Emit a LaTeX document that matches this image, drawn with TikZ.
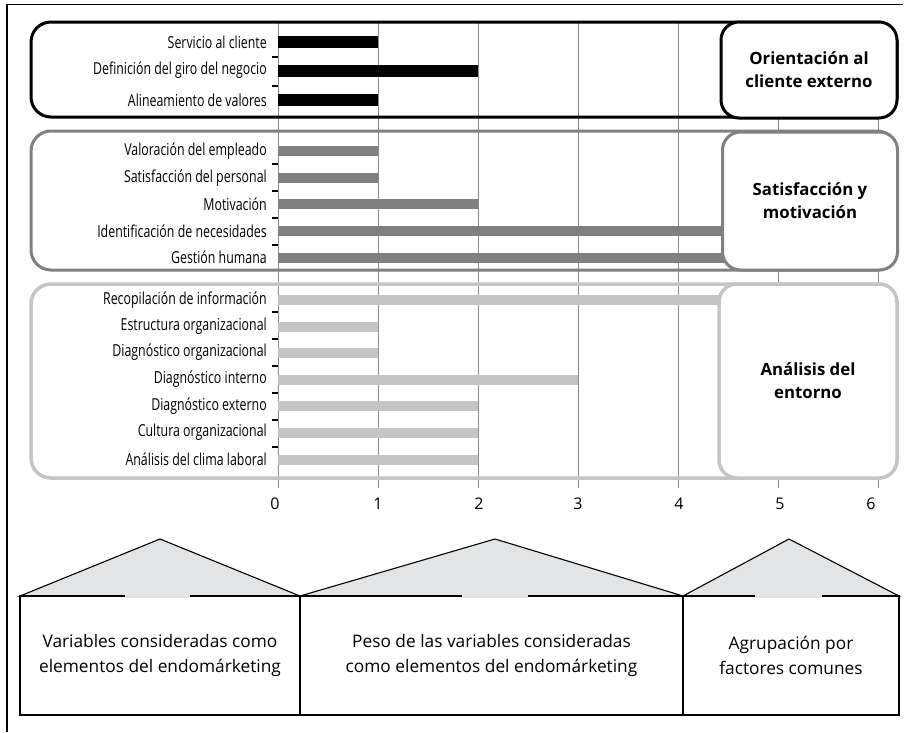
\documentclass[tikz,border=0pt]{standalone}
\usepackage{fontspec}
\setmainfont{Open Sans}
\newfontfamily\condfont[FakeStretch=0.75]{Open Sans}
\definecolor{gridgray}{RGB}{140,140,140}
\definecolor{barblack}{RGB}{0,0,0}
\definecolor{bargray}{RGB}{128,128,128}
\definecolor{barlight}{RGB}{196,197,198}
\definecolor{rooffill}{RGB}{227,228,229}
\begin{document}
\begin{tikzpicture}[x=1pt,y=-1pt,
  catlabel/.style={anchor=east,inner sep=0pt,font=\condfont\fontsize{16.5}{18}\selectfont},
  gridline/.style={draw=gridgray,line width=1pt},
  tickmark/.style={draw=black,line width=1.3pt},
  axislabel/.style={inner sep=0pt,font=\fontsize{16}{18}\selectfont},
  groupframe/.style={line width=3pt,rounded corners=20pt},
  factorbox/.style={fill=white,line width=3pt,rounded corners=18pt,align=center,
    inner sep=0pt,font=\bfseries\fontsize{16.8}{23}\selectfont},
  roof/.style={draw=black,line width=1.1pt,fill=rooffill,line join=miter},
  basebox/.style={draw=black,line width=1.1pt,inner sep=0pt,align=center,
    font=\fontsize{17.3}{25}\selectfont}]
\useasboundingbox (0,0) rectangle (906,732);
% page frame: top and left rules
\draw[line width=1.5pt] (7,732) -- (7,4.5) -- (903,4.5);

% vertical grid
\foreach \k in {0,...,6}
  \draw[gridline] ({278+100*\k},21) -- ({278+100*\k},488);
\foreach \k/\px in {0/275,1/378,2/479,3/578,4/679,5/780,6/871}
  \node[axislabel] (t\k) at (\px,504) {\k};

% group 1: orientation to the external customer
\foreach \y/\v/\t [count=\i] in {42/1/Servicio al cliente,
    70.5/2/Definición del giro del negocio,
    100/1/Alineamiento de valores} {
  \fill[barblack] (278,\y-6) rectangle ({278+100*\v},\y+6);
  \node[catlabel] (a\i) at (267,\y) {\t};
}
\foreach \y in {57,86} \draw[tickmark] (272,\y) -- (278,\y);

% group 2: satisfaction and motivation
\foreach \y/\v/\t [count=\i] in {151/1/Valoración del empleado,
    178/1/Satisfacción del personal,
    204/2/Motivación,
    231/5/Identificación de necesidades,
    257.5/5/Gestión humana} {
  \fill[bargray] (278,\y-5) rectangle ({278+100*\v},\y+5);
  \node[catlabel] (b\i) at (267,\y) {\t};
}
\foreach \y in {164,191,218,245} \draw[tickmark] (272,\y) -- (278,\y);

% group 3: analysis of the environment
\foreach \y/\v/\t [count=\i] in {300/5/Recopilación de información,
    326.5/1/Estructura organizacional,
    352.5/1/Diagnóstico organizacional,
    379.5/3/Diagnóstico interno,
    406/2/Diagnóstico externo,
    432.5/2/Cultura organizacional,
    459.5/2/Análisis del clima laboral} {
  \fill[barlight] (278,\y-5) rectangle ({278+100*\v},\y+5);
  \node[catlabel] (c\i) at (267,\y) {\t};
}
\foreach \y in {312,339,366,393,420,447} \draw[tickmark] (272,\y) -- (278,\y);

% group frames
\draw[groupframe,draw=black] (31,22) rectangle (897,117);
\draw[groupframe,draw=bargray] (31,131) rectangle (897,270);
\draw[groupframe,draw=barlight,line width=3.5pt] (31,284) rectangle (897,478);

% factor boxes
\node[factorbox,draw=black,minimum width=176pt,minimum height=96pt] (f1) at (809,70)
  {Orientación al\\cliente externo};
\node[factorbox,draw=bargray,minimum width=175pt,minimum height=138pt] (f2) at (810,201)
  {Satisfacción y\\motivación};
\node[factorbox,draw=barlight,line width=3.5pt,minimum width=178pt,minimum height=194pt] (f3) at (808,381)
  {Análisis del\\entorno};

% bottom roofs
\path[roof] (20,596) -- (160,539) -- (300,596) -- cycle;
\path[roof] (300,596) -- (495,539) -- (683,596) -- cycle;
\path[roof] (683,596) -- (789,539) -- (899,596) -- cycle;

% bottom boxes
\node[basebox,minimum width=280pt,minimum height=119pt] (p1) at (160,655.5)
  {Variables consideradas como\\elementos del endomárketing};
\node[basebox,minimum width=383pt,minimum height=119pt] (p2) at (491.5,655.5)
  {Peso de las variables consideradas\\como elementos del endomárketing};
\node[basebox,minimum width=216pt,minimum height=119pt] (p3) at (791,655.5)
  {Agrupación por\\factores comunes};

% breaks in the box tops beneath each roof apex
\fill[rooffill] (125,594.5) rectangle (190,597.5);
\fill[rooffill] (462,594.5) rectangle (528,597.5);
\fill[rooffill] (755,594.5) rectangle (822,597.5);
\end{tikzpicture}
\end{document}
